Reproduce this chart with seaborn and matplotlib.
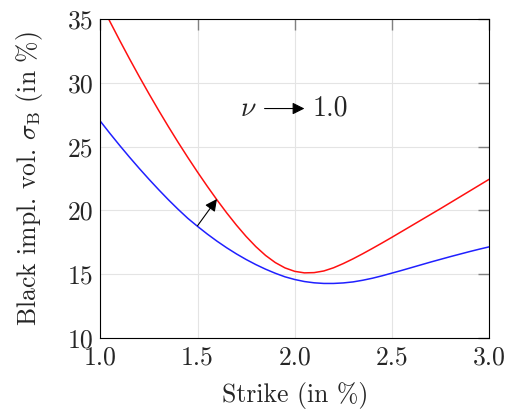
import numpy as np
import pandas as pd
import matplotlib
matplotlib.use('Agg')
import matplotlib.pyplot as plt
import seaborn as sns

# strikes (in %) and implied vols
strike = [1.00, 1.05, 1.10, 1.15, 1.20, 1.25, 1.30, 1.35, 1.40, 1.45,
          1.50, 1.55, 1.60, 1.65, 1.70, 1.75, 1.80, 1.85, 1.90, 1.95,
          2.00, 2.05, 2.10, 2.15, 2.20, 2.25, 2.30, 2.35, 2.40, 2.45,
          2.50, 2.55, 2.60, 2.65, 2.70, 2.75, 2.80, 2.85, 2.90, 2.95, 3.00]

vol_low_nu = [27.00, 26.03, 25.09, 24.18, 23.30, 22.45, 21.63, 20.84, 20.09, 19.38,
              18.75, 18.15, 17.59, 17.07, 16.59, 16.15, 15.75, 15.39, 15.07, 14.79,
              14.58, 14.42, 14.32, 14.27, 14.27, 14.31, 14.39, 14.52, 14.68, 14.87,
              15.08, 15.29, 15.51, 15.73, 15.95, 16.16, 16.37, 16.57, 16.77, 16.96, 17.14]

vol_high_nu = [36.30, 34.80, 33.33, 31.90, 30.51, 29.16, 27.85, 26.58, 25.35, 24.16,
               23.01, 21.90, 20.83, 19.81, 18.85, 17.96, 17.16, 16.47, 15.91, 15.49,
               15.22, 15.10, 15.12, 15.25, 15.50, 15.83, 16.20, 16.60, 17.02, 17.45,
               17.89, 18.34, 18.79, 19.24, 19.69, 20.14, 20.60, 21.06, 21.52, 21.98, 22.44]

x_ticks = [1.0, 1.5, 2.0, 2.5, 3.0]
x_labels = ['1.0', '1.5', '2.0', '2.5', '3.0']
y_ticks = [10, 15, 20, 25, 30, 35]
y_labels = ['10', '15', '20', '25', '30', '35']

sns.set_style('white')
plt.rcParams['font.family'] = ['cmr10', 'DejaVu Serif']
plt.rcParams['mathtext.fontset'] = 'cm'
plt.rcParams['axes.formatter.use_mathtext'] = True

df = pd.DataFrame({'strike': strike, 'low': vol_low_nu, 'high': vol_high_nu})

fig = plt.figure(figsize=(5.07, 4.12), dpi=100)
ax = fig.add_axes([0.198, 0.180, 0.7665, 0.773])

sns.lineplot(data=df, x='strike', y='low', color='#2020ff', lw=1.1, ax=ax)
sns.lineplot(data=df, x='strike', y='high', color='#ff1010', lw=1.1, ax=ax)

ax.set_xlim(1.0, 3.0)
ax.set_ylim(10, 35)
ax.set_xticks(x_ticks, x_labels)
ax.set_yticks(y_ticks, y_labels)
ax.grid(True, color='#e4e4e4', lw=0.8)
ax.set_axisbelow(True)
ax.tick_params(direction='in', length=8, width=1.0, color='#808080',
               top=True, right=True, labelsize=18.5)
ax.tick_params(axis='x', pad=6)
ax.tick_params(axis='y', pad=5)
for s in ax.spines.values():
    s.set_color('black')
    s.set_linewidth(0.8)

ax.set_xlabel('Strike (in %)', fontsize=18.5, labelpad=9)
ax.set_ylabel(r'Black impl. vol. $\sigma_{\mathrm{B}}$ (in %)', fontsize=18.5, labelpad=16)

# arrow between the two smiles
ax.annotate('', xy=(1.6, 20.9), xytext=(1.5, 18.8),
            arrowprops=dict(arrowstyle='-|>', color='black', lw=0.8,
                            mutation_scale=18, shrinkA=0, shrinkB=0))

ax.text(1.76, 28.0, r'$\nu$', fontsize=20, ha='center', va='center')
ax.annotate('', xy=(2.05, 28.0), xytext=(1.845, 28.0),
            arrowprops=dict(arrowstyle='-|>', color='black', lw=0.8,
                            mutation_scale=18, shrinkA=0, shrinkB=0))
ax.text(2.09, 28.0, '1.0', fontsize=20, ha='left', va='center')

fig.savefig('out.png', dpi=100)
